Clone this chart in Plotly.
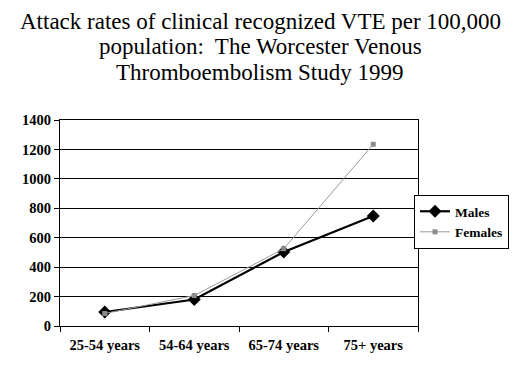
import plotly.graph_objects as go

categories = ["25-54 years", "54-64 years", "65-74 years", "75+ years"]
males = [95, 180, 503, 748]
females = [85, 207, 525, 1235]
y_ticks = [0, 200, 400, 600, 800, 1000, 1200, 1400]
title_lines = [
    "Attack rates of clinical recognized VTE per 100,000",
    "population:  The Worcester Venous",
    "Thromboembolism Study 1999",
]

fig = go.Figure()
fig.add_trace(go.Scatter(
    x=categories, y=males, name="Males", mode="lines+markers",
    line=dict(color="black", width=2.2),
    marker=dict(symbol="diamond", size=10, color="black"),
))
fig.add_trace(go.Scatter(
    x=categories, y=females, name="Females", mode="lines+markers",
    line=dict(color="#9a9a9a", width=1),
    marker=dict(symbol="square", size=5, color="#8c8c8c"),
))

font_serif = "Liberation Serif, Times New Roman, serif"
# page body has an 8px margin; compensate so the plot lands where the reference's does
L, R, T, B = 52, 110, 112, 59
plot_w = 520 - L - R
plot_h = 377 - T - B

def px_to_paper_y(fy):
    return 1 + (T - fy) / plot_h

def px_to_paper_x(fx):
    return (fx - L) / plot_w

annotations = []
for i, line in enumerate(title_lines):
    annotations.append(dict(
        text=line, x=px_to_paper_x(252), y=px_to_paper_y(13.5 + 25.5 * i),
        xref="paper", yref="paper", xanchor="center", yanchor="middle",
        showarrow=False, align="center",
        font=dict(family=font_serif, size=23, color="black"),
    ))

fig.update_layout(
    width=520, height=377,
    margin=dict(l=L, r=R, t=T, b=B, autoexpand=False),
    paper_bgcolor="white", plot_bgcolor="white",
    showlegend=True,
    legend=dict(
        x=px_to_paper_x(501), y=px_to_paper_y(214), xanchor="right", yanchor="middle",
        bordercolor="black", borderwidth=1,
        font=dict(family=font_serif, size=13.5, color="black", weight="bold"),
        tracegroupgap=0, itemwidth=30,
    ),
    annotations=annotations,
)

fig.update_xaxes(
    type="category", tickson="boundaries", range=[-0.5, 3.5],
    ticks="outside", ticklen=5, tickcolor="black",
    showline=True, linecolor="black", linewidth=1, mirror=True,
    showgrid=False, ticklabelstandoff=6,
    tickfont=dict(family=font_serif, size=14.5, color="black", weight="bold"),
)
fig.update_yaxes(
    range=[0, 1400], tickvals=y_ticks,
    ticks="outside", ticklen=5, tickcolor="black",
    showline=True, linecolor="black", linewidth=1, mirror=True,
    showgrid=True, gridcolor="black", gridwidth=1,
    zeroline=False,
    tickfont=dict(family=font_serif, size=14.5, color="black", weight="bold"),
)

fig.write_html("out.html")
